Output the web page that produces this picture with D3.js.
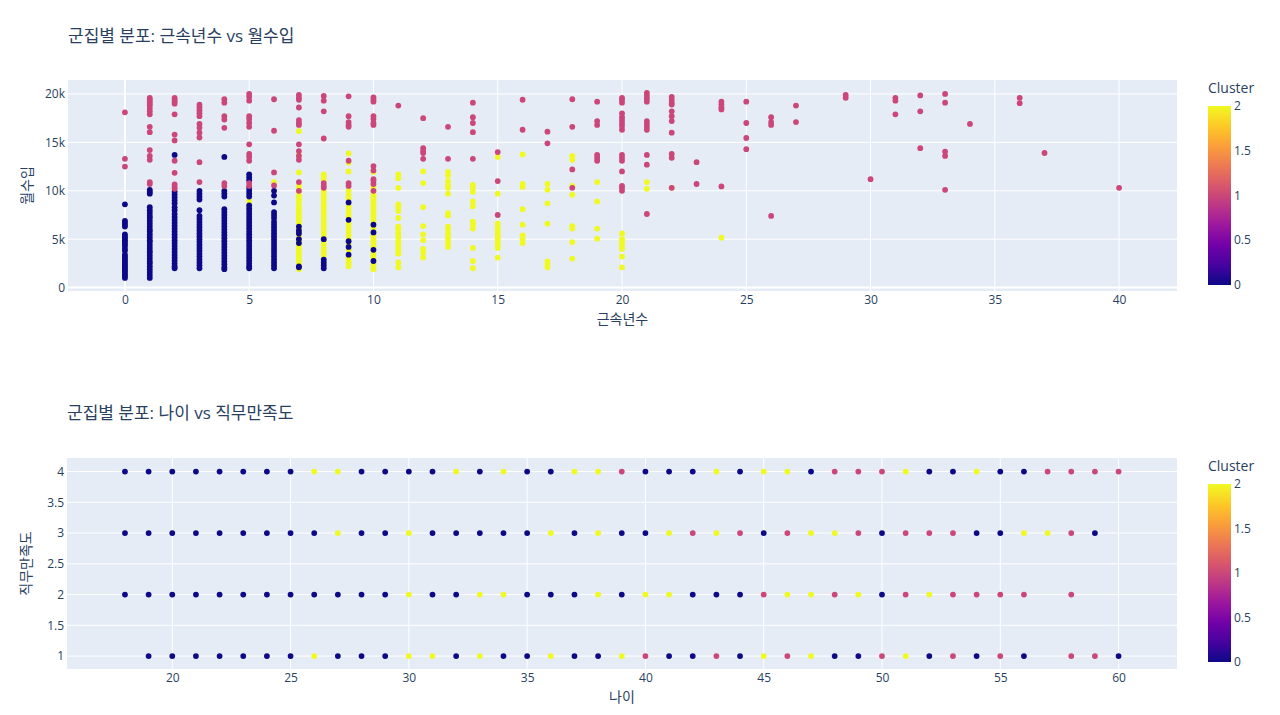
<!DOCTYPE html>
<html>
<head>
<meta charset="utf-8">
<script src="https://cdn.jsdelivr.net/npm/d3@7"></script>
<style>
  body { margin: 0; background: #fff; }
  text { font-family: "Open Sans", "Noto Sans CJK KR", verdana, arial, sans-serif; fill: #2a3f5f; }
</style>
</head>
<body>
<svg id="chart" width="1280" height="715"></svg>
<script>
// 근속년수 vs 월수입 (income in thousands), one list per cluster: [tenure, incomes]
var incomeCluster0 = [
  [0, [8.6, 6.9, 6.7, 6.5, 6.3, 5.5, 5.3, 5.1, 4.9, 4.7, 4.5, 4.3, 4.0, 3.8, 3.4, 3.2, 3.0, 2.8, 2.6, 2.4, 2.2, 2.0, 1.8, 1.6, 1.4, 1.2, 1.0]],
  [1, [10.1, 9.9, 9.7, 8.3, 8.0, 7.7, 7.4, 7.2, 6.9, 6.6, 6.3, 6.0, 5.8, 5.5, 5.2, 4.9, 4.7, 4.4, 4.1, 3.8, 3.6, 3.3, 3.0, 2.7, 2.5, 2.2, 1.9, 1.6, 1.3, 1.0]],
  [2, [13.7, 9.9, 9.6, 9.3, 9.0, 8.7, 8.3, 8.0, 7.6, 7.3, 7.0, 6.7, 6.4, 6.1, 5.8, 5.5, 5.2, 4.9, 4.6, 4.3, 4.0, 3.7, 3.4, 3.1, 2.8, 2.5, 2.2, 2.0]],
  [3, [10.0, 9.7, 9.4, 9.1, 8.0, 7.4, 7.1, 6.8, 6.5, 6.2, 5.9, 5.6, 5.3, 5.0, 4.7, 4.4, 4.1, 3.8, 3.5, 3.2, 2.9, 2.6, 2.3, 2.0]],
  [4, [13.5, 10.0, 9.7, 9.4, 8.1, 7.8, 7.5, 7.2, 6.9, 6.6, 6.3, 6.0, 5.7, 5.4, 5.1, 4.8, 4.5, 4.2, 3.9, 3.6, 3.3, 3.0, 2.7, 2.4, 2.1, 1.9]],
  [5, [11.7, 11.4, 11.1, 10.3, 10.0, 9.7, 9.4, 8.5, 8.2, 7.9, 7.6, 7.3, 7.0, 6.7, 6.4, 6.1, 5.8, 5.5, 5.2, 4.9, 4.6, 4.3, 4.0, 3.7, 3.4, 3.1, 2.8, 2.5, 2.2, 2.0]],
  [6, [10.0, 9.5, 8.8, 7.8, 7.5, 7.2, 6.8, 6.5, 6.2, 5.9, 5.6, 5.3, 5.0, 4.7, 4.4, 4.1, 3.8, 3.5, 3.2, 2.9, 2.6, 2.3, 2.0]],
  [7, [6.3, 5.9, 5.6, 5.0, 4.6, 2.2, 2.1]],
  [8, [5.0, 2.9, 2.6, 2.3, 2.0]],
  [9, [8.8, 7.0, 4.8, 4.2, 3.4]],
  [10, [6.5, 5.7, 3.9, 2.75]]
];
var incomeCluster1 = [
  [0, [18.1, 13.3, 12.5]],
  [1, [19.6, 19.4, 19.2, 19.0, 18.8, 18.5, 18.2, 17.9, 16.6, 16.05, 14.2, 13.6, 13.2, 10.9, 10.7]],
  [2, [19.6, 19.4, 19.2, 19.0, 17.9, 15.8, 15.2, 13.1, 11.85, 10.65, 10.4, 10.2]],
  [3, [18.9, 18.6, 18.3, 18.0, 17.7, 16.9, 16.5, 16.0, 15.5, 12.95, 10.9]],
  [4, [19.45, 19.1, 17.7, 17.35, 16.5, 10.8, 10.5]],
  [5, [20.0, 19.7, 19.3, 17.7, 17.4, 17.0, 16.6, 14.8, 13.8, 13.5, 13.1, 10.8, 10.5]],
  [6, [19.45, 16.2, 11.9, 10.55]],
  [7, [19.9, 19.6, 19.4, 18.6, 17.3, 17.0, 16.8, 14.8, 14.1, 13.6, 13.2, 10.9, 10.0]],
  [8, [19.8, 19.3, 18.2, 15.4, 10.8, 10.5, 10.3]],
  [9, [19.75, 17.7, 17.1, 16.8, 16.6, 13.1, 10.8, 10.5]],
  [10, [19.65, 19.4, 19.2, 17.7, 17.4, 17.0, 16.8, 12.55, 12.1, 11.2, 11.0, 10.7, 10.0]],
  [11, [18.8]],
  [12, [17.5, 14.4, 14.1, 13.9, 13.3]],
  [13, [16.6, 13.3]],
  [14, [19.1, 17.6, 17.0, 16.05, 13.3]],
  [15, [14.0, 11.0, 7.5]],
  [16, [19.4, 16.3]],
  [17, [16.1, 14.9]],
  [18, [19.45, 16.6, 12.2, 10.3]],
  [19, [19.2, 17.2, 16.8, 13.7, 13.4, 13.1]],
  [20, [19.6, 19.4, 19.1, 18.0, 17.6, 17.3, 17.0, 16.7, 16.3, 13.7, 13.4, 13.1, 12.0, 10.5, 10.3, 10.0]],
  [21, [20.1, 19.8, 19.5, 19.2, 17.2, 16.9, 16.6, 16.3, 13.7, 12.7, 7.6]],
  [22, [19.7, 19.4, 19.1, 18.9, 18.2, 17.7, 17.2, 16.0, 13.8, 13.4, 10.3]],
  [23, [12.95, 10.7]],
  [24, [19.2, 18.9, 18.6, 18.4, 10.45]],
  [25, [19.2, 17.0, 15.45, 14.3]],
  [26, [17.6, 17.1, 16.8, 7.4]],
  [27, [18.8, 17.1]],
  [29, [19.9, 19.6]],
  [30, [11.2]],
  [31, [19.6, 19.3, 17.9]],
  [32, [19.85, 18.2, 14.4]],
  [33, [20.0, 19.1, 14.05, 13.6, 10.1]],
  [34, [16.9]],
  [36, [19.6, 19.05]],
  [37, [13.9]],
  [40, [10.3]]
];
var incomeCluster2 = [
  [5, [8.9]],
  [6, [10.9]],
  [7, [16.15, 13.7, 11.9, 10.6, 10.3, 9.9, 9.5, 9.2, 8.9, 8.5, 8.2, 7.9, 7.6, 7.3, 7.0, 6.7, 6.4, 6.1, 5.8, 5.5, 5.2, 4.9, 4.6, 4.3, 4.0, 3.7, 3.4, 3.1, 2.8, 2.5, 2.2, 1.9]],
  [8, [11.7, 11.4, 11.1, 10.0, 9.6, 9.2, 8.8, 8.4, 8.0, 7.6, 7.2, 6.8, 6.4, 6.0, 5.6, 5.2, 4.8, 4.4, 4.0, 3.6, 3.3]],
  [9, [13.85, 12.9, 12.0, 10.0, 9.6, 9.2, 8.4, 8.0, 7.6, 7.3, 6.6, 6.2, 5.8, 5.4, 5.0, 4.5, 3.9, 3.1, 2.8, 2.5, 2.2]],
  [10, [11.95, 10.6, 10.3, 10.0, 9.7, 9.4, 9.1, 8.8, 8.5, 8.2, 7.9, 7.6, 7.3, 7.0, 6.7, 6.4, 6.1, 5.8, 5.5, 5.2, 4.9, 4.6, 4.3, 4.0, 3.7, 3.4, 3.1, 2.8, 2.5, 2.2, 1.9]],
  [11, [11.7, 11.3, 10.3, 8.6, 8.3, 7.9, 7.2, 6.3, 6.0, 5.6, 5.2, 4.8, 4.5, 4.1, 3.8, 3.5, 2.6, 2.1]],
  [12, [12.0, 10.8, 8.3, 6.35, 5.5, 4.9, 4.0, 3.6, 3.1]],
  [13, [11.95, 11.6, 11.0, 10.6, 10.3, 9.7, 7.7, 7.45, 6.3, 6.0, 5.6, 5.2, 4.9, 4.5, 4.2]],
  [14, [10.6, 10.3, 9.9, 8.9, 8.4, 6.8, 6.5, 6.1, 4.1, 2.75, 2.0]],
  [15, [13.5, 9.7, 6.6, 6.2, 5.9, 5.6, 5.3, 5.0, 4.7, 4.4, 4.1, 3.1]],
  [16, [13.75, 10.7, 10.4, 8.1, 6.5, 5.4, 5.0, 4.6]],
  [17, [10.7, 10.1, 8.7, 6.6, 2.7, 2.4, 2.1]],
  [18, [13.6, 13.2, 10.5, 9.6, 6.35, 6.1, 4.7, 3.0]],
  [19, [10.9, 8.9, 6.1, 5.05]],
  [20, [5.6, 5.0, 4.7, 4.4, 4.0, 3.2, 2.1]],
  [21, [10.9, 10.2]],
  [22, [10.3]],
  [24, [5.15]]
];

// 나이 vs 직무만족도: visible cluster per age, one list per satisfaction level (null = no point)
var ages = [18, 19, 20, 21, 22, 23, 24, 25, 26, 27, 28, 29, 30, 31, 32, 33, 34, 35, 36, 37, 38, 39,
  40, 41, 42, 43, 44, 45, 46, 47, 48, 49, 50, 51, 52, 53, 54, 55, 56, 57, 58, 59, 60];
var satisfaction4 = [0, 0, 0, 0, 0, 0, 0, 0, 2, 2, 0, 0, 0, 0, 2, 0, 2, 0, 0, 2, 2, 1,
  0, 0, 0, 2, 0, 2, 2, 0, 1, 1, 1, 2, 0, 0, 2, 0, 0, 1, 1, 1, 1];
var satisfaction3 = [0, 0, 0, 0, 0, 0, 0, 0, 0, 2, 0, 0, 2, 0, 0, 0, 0, 0, 2, 0, 2, 0,
  0, 2, 1, 2, 1, 0, 1, 2, 2, 1, 0, 1, 1, 1, 0, 0, 2, 2, 1, 0, null];
var satisfaction2 = [0, 0, 0, 0, 0, 0, 0, 0, 0, 0, 0, 0, 2, 0, 0, 2, 2, 0, 0, 0, 2, 0,
  2, 2, 0, 0, 0, 1, 2, 2, 1, 2, 0, 1, 2, 1, 1, 1, 1, null, 1, null, null];
var satisfaction1 = [null, 0, 0, 0, 0, 0, 0, 0, 2, 0, 0, 0, 2, 2, 0, 2, 0, 0, 2, 0, 0, 2,
  1, 0, 0, 1, 0, 2, 1, 2, 0, 0, 1, 2, 0, 1, 0, 1, 0, null, 1, 1, 0];

var incomeTicks = [0, 5000, 10000, 15000, 20000];
var tenureTicks = [0, 5, 10, 15, 20, 25, 30, 35, 40];
var ageTicks = [20, 25, 30, 35, 40, 45, 50, 55, 60];
var satisfactionTicks = [1, 1.5, 2, 2.5, 3, 3.5, 4];
var clusterTicks = [0, 0.5, 1, 1.5, 2];

var plasmaStops = ['#0d0887', '#46039f', '#7201a8', '#9c179e', '#bd3786', '#d8576b', '#ed7953', '#fb9f3a', '#fdca26', '#f0f921'];
var clusterColor = d3.scaleLinear()
  .domain(plasmaStops.map(function (c, i) { return 2 * i / (plasmaStops.length - 1); }))
  .range(plasmaStops);

var svg = d3.select('#chart');

function flatten(list, cluster) {
  var out = [];
  list.forEach(function (d) {
    d[1].forEach(function (v) { out.push({x: d[0], y: v * 1000, c: cluster}); });
  });
  return out;
}

function drawPanel(opt) {
  var x = d3.scaleLinear().domain(opt.xDomain).range([opt.left, opt.right]);
  var y = d3.scaleLinear().domain(opt.yDomain).range([opt.bottom, opt.top]);
  var g = svg.append('g');

  g.append('text')
    .attr('x', opt.left).attr('y', opt.titleY)
    .style('font-size', '17px')
    .text(opt.title);

  g.append('rect')
    .attr('x', opt.left).attr('y', opt.top)
    .attr('width', opt.right - opt.left).attr('height', opt.bottom - opt.top)
    .attr('fill', '#E5ECF6');

  g.append('g').selectAll('line').data(opt.yTicks).enter().append('line')
    .attr('x1', opt.left).attr('x2', opt.right)
    .attr('y1', function (d) { return y(d); }).attr('y2', function (d) { return y(d); })
    .attr('stroke', '#fff').attr('stroke-width', function (d) { return d === 0 ? 2 : 1; });
  g.append('g').selectAll('line').data(opt.xTicks).enter().append('line')
    .attr('y1', opt.top).attr('y2', opt.bottom)
    .attr('x1', function (d) { return x(d); }).attr('x2', function (d) { return x(d); })
    .attr('stroke', '#fff').attr('stroke-width', function (d) { return d === 0 ? 2 : 1; });

  var xAxis = g.append('g')
    .attr('transform', 'translate(0,' + opt.bottom + ')')
    .call(d3.axisBottom(x).tickValues(opt.xTicks).tickSize(0).tickPadding(4).tickFormat(opt.xFormat));
  var yAxis = g.append('g')
    .attr('transform', 'translate(' + opt.left + ',0)')
    .call(d3.axisLeft(y).tickValues(opt.yTicks).tickSize(0).tickPadding(3).tickFormat(opt.yFormat));
  [xAxis, yAxis].forEach(function (a) {
    a.select('.domain').remove();
    a.selectAll('text').style('font-size', '12px').attr('fill', '#2a3f5f');
  });

  g.append('text')
    .attr('x', (opt.left + opt.right) / 2).attr('y', opt.bottom + 33)
    .attr('text-anchor', 'middle').style('font-size', '14px')
    .text(opt.xTitle);
  g.append('text')
    .attr('transform', 'translate(' + (opt.left - 36) + ',' + ((opt.top + opt.bottom) / 2) + ') rotate(-90)')
    .attr('text-anchor', 'middle').style('font-size', '14px')
    .text(opt.yTitle);

  g.append('g').selectAll('circle').data(opt.points).enter().append('circle')
    .attr('cx', function (d) { return x(d.x); })
    .attr('cy', function (d) { return y(d.y); })
    .attr('r', 2.9)
    .attr('fill', function (d) { return clusterColor(d.c); });

  // colorbar
  var barX = 1208, barW = 23;
  var cy = d3.scaleLinear().domain([0, 2]).range([opt.barBottom, opt.barTop]);
  var gradId = 'grad' + opt.id;
  var grad = svg.append('defs').append('linearGradient')
    .attr('id', gradId).attr('x1', 0).attr('y1', 1).attr('x2', 0).attr('y2', 0);
  grad.selectAll('stop').data(plasmaStops).enter().append('stop')
    .attr('offset', function (d, i) { return i / (plasmaStops.length - 1); })
    .attr('stop-color', function (d) { return d; });
  g.append('rect')
    .attr('x', barX).attr('y', opt.barTop)
    .attr('width', barW).attr('height', opt.barBottom - opt.barTop)
    .attr('fill', 'url(#' + gradId + ')');
  g.append('g').selectAll('text').data(clusterTicks).enter().append('text')
    .attr('x', barX + barW + 3).attr('y', function (d) { return cy(d); })
    .attr('dy', '0.35em').style('font-size', '12px')
    .text(function (d) { return d; });
  g.append('text')
    .attr('x', barX).attr('y', opt.barTop - 13)
    .style('font-size', '14px')
    .text('Cluster');
}

// draw order: yellow, navy, pink
var topPoints = flatten(incomeCluster2, 2)
  .concat(flatten(incomeCluster0, 0))
  .concat(flatten(incomeCluster1, 1));

drawPanel({
  id: 1,
  title: '군집별 분포: 근속년수 vs 월수입',
  titleY: 42,
  left: 68, right: 1177, top: 80, bottom: 291,
  xDomain: [-2.29, 42.33], yDomain: [-350, 21440],
  xTicks: tenureTicks, yTicks: incomeTicks,
  xFormat: function (d) { return d; },
  yFormat: function (d) { return d === 0 ? '0' : (d / 1000) + 'k'; },
  xTitle: '근속년수', yTitle: '월수입',
  points: topPoints,
  barTop: 106, barBottom: 285
});

var bottomPoints = [];
[[4, satisfaction4], [3, satisfaction3], [2, satisfaction2], [1, satisfaction1]].forEach(function (row) {
  row[1].forEach(function (c, i) {
    if (c !== null) bottomPoints.push({x: ages[i], y: row[0], c: c});
  });
});

drawPanel({
  id: 2,
  title: '군집별 분포: 나이 vs 직무만족도',
  titleY: 419,
  left: 67, right: 1177, top: 458, bottom: 669,
  xDomain: [15.55, 62.47], yDomain: [0.79, 4.22],
  xTicks: ageTicks, yTicks: satisfactionTicks,
  xFormat: function (d) { return d; },
  yFormat: function (d) { return d; },
  xTitle: '나이', yTitle: '직무만족도',
  points: bottomPoints,
  barTop: 484, barBottom: 662
});
</script>
</body>
</html>
